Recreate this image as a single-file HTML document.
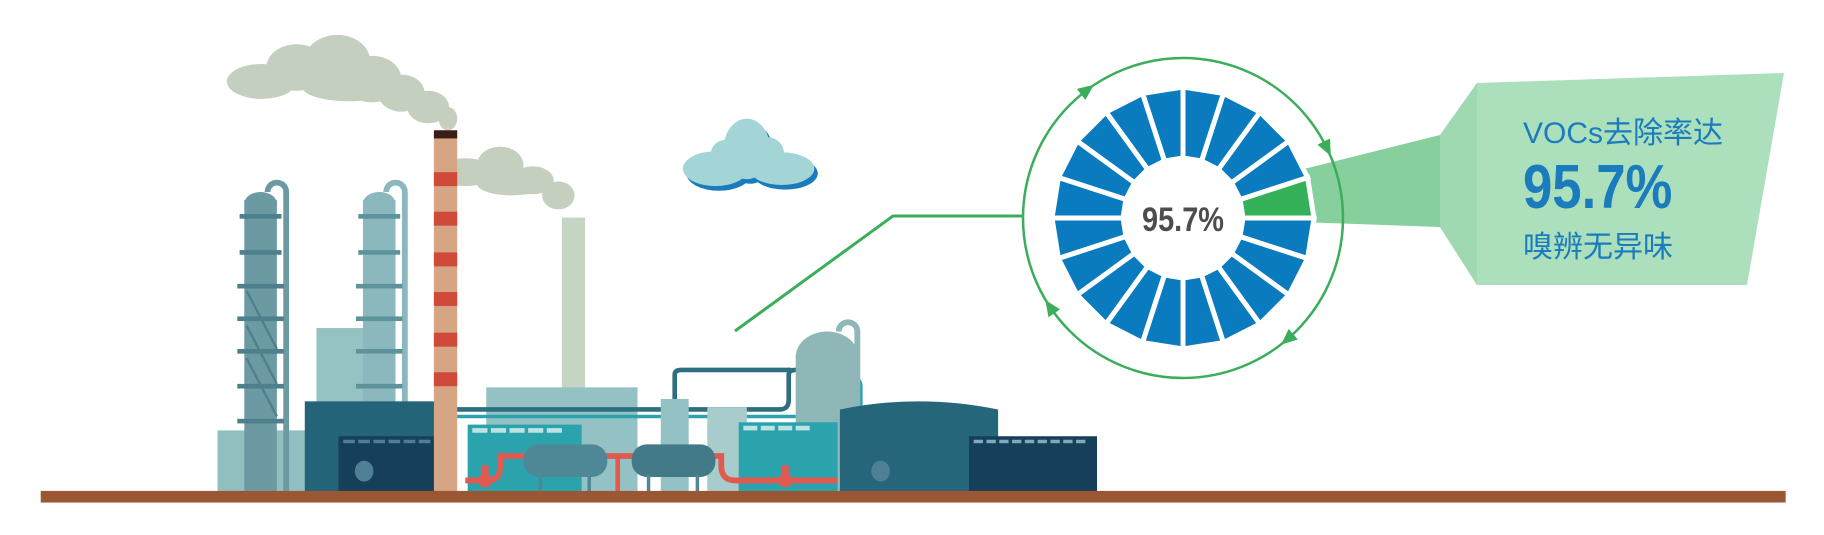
<!DOCTYPE html>
<html><head><meta charset="utf-8"><style>
html,body{margin:0;padding:0;background:#fff;width:1824px;height:535px;overflow:hidden}
svg{display:block}
</style></head><body>
<svg id="s" width="1824" height="535" viewBox="0 0 1824 535" xmlns="http://www.w3.org/2000/svg">
<g transform="scale(1.1633)">
  <!-- smoke -->
  <g fill="#c4cfbf">
    <ellipse cx="225" cy="70" rx="30" ry="15"/>
    <ellipse cx="255" cy="58" rx="26" ry="20"/>
    <ellipse cx="290" cy="52" rx="28" ry="22"/>
    <ellipse cx="320" cy="68" rx="25" ry="20"/>
    <ellipse cx="345" cy="80" rx="20" ry="16"/>
    <ellipse cx="368" cy="92" rx="18" ry="14"/>
    <ellipse cx="385" cy="102" rx="8" ry="10"/>
    <ellipse cx="300" cy="75" rx="40" ry="12"/>
    <ellipse cx="400" cy="148" rx="25" ry="12"/>
    <ellipse cx="430" cy="142" rx="20" ry="16"/>
    <ellipse cx="458" cy="155" rx="18" ry="12"/>
    <ellipse cx="480" cy="168" rx="14" ry="12"/>
    <ellipse cx="440" cy="158" rx="30" ry="10"/>
  </g>
  <!-- blue cloud -->
  <g fill="#1a7bbd" transform="translate(3,4)">
    <ellipse cx="642" cy="128" rx="20" ry="26"/><ellipse cx="615" cy="145" rx="28" ry="15"/><ellipse cx="672" cy="145" rx="28" ry="14"/>
  </g>
  <g fill="#a3d5d6">
    <ellipse cx="642" cy="128" rx="20" ry="26"/><ellipse cx="615" cy="145" rx="28" ry="15"/><ellipse cx="672" cy="145" rx="28" ry="14"/><ellipse cx="625" cy="132" rx="14" ry="12"/><ellipse cx="660" cy="132" rx="14" ry="14"/>
  </g>
  <!-- background blocks -->
  <rect x="187" y="370" width="80" height="53" fill="#8fbfbf"/>
  <rect x="272" y="282" width="42" height="141" fill="#95c2c2"/>
  <rect x="483" y="187" width="20" height="150" fill="#c5d6c5"/>
  <rect x="418" y="333" width="130" height="90" fill="#94c1c3"/>
  <!-- towers -->
  <g>
    <path d="M246 423 V165 a8 8 0 0 0 -16 0" fill="none" stroke="#6b9aa3" stroke-width="5"/>
    <rect x="210" y="172" width="28" height="251" fill="#6b9aa3"/>
    <ellipse cx="224" cy="175" rx="14" ry="10" fill="#6b9aa3"/>
    <g fill="#4d7f8c"><rect x="206" y="184" width="36" height="4"/><rect x="206" y="215" width="36" height="4"/><rect x="204" y="244" width="40" height="4"/><rect x="204" y="272" width="40" height="4"/><rect x="204" y="300" width="40" height="4"/><rect x="204" y="330" width="40" height="4"/><rect x="204" y="360" width="40" height="4"/></g>
    <path d="M212 250 L238 300 M212 280 L238 330 M212 308 L238 358" stroke="#4d7f8c" stroke-width="2"/>
    <path d="M348 423 V165 a8 8 0 0 0 -16 0" fill="none" stroke="#8ab8bc" stroke-width="5"/>
    <rect x="312" y="172" width="28" height="251" fill="#8ab8bc"/>
    <ellipse cx="326" cy="175" rx="14" ry="10" fill="#8ab8bc"/>
    <g fill="#5f939c"><rect x="308" y="184" width="36" height="4"/><rect x="308" y="215" width="36" height="4"/><rect x="306" y="244" width="40" height="4"/><rect x="306" y="272" width="40" height="4"/><rect x="306" y="300" width="40" height="4"/><rect x="306" y="330" width="40" height="4"/><rect x="306" y="360" width="40" height="4"/></g>
  </g>
  <rect x="262" y="345" width="112" height="78" fill="#236478"/>
  <rect x="291" y="375" width="97" height="48" fill="#163f5a"/>
  <g fill="#4f7f95"><rect x="295" y="378" width="10" height="3"/><rect x="308" y="378" width="10" height="3"/><rect x="321" y="378" width="10" height="3"/><rect x="334" y="378" width="10" height="3"/><rect x="347" y="378" width="10" height="3"/><rect x="360" y="378" width="10" height="3"/></g>
  <ellipse cx="313" cy="405" rx="8" ry="9" fill="#4f7f95"/>
  <!-- chimney -->
  <rect x="373" y="112" width="20" height="311" fill="#d6a584"/>
  <rect x="373" y="112" width="20" height="7" fill="#3a1e16"/>
  <g fill="#d04a3a"><rect x="373" y="148" width="20" height="12"/><rect x="373" y="182" width="20" height="12"/><rect x="373" y="217" width="20" height="12"/><rect x="373" y="251" width="20" height="12"/><rect x="373" y="286" width="20" height="12"/><rect x="373" y="320" width="20" height="12"/></g>
  <!-- pipes -->
  <path d="M393 352 H670 Q678 352 678 344 V322 Q678 318 684 318 H705 Q712 318 712 326 V423" fill="none" stroke="#2d6f80" stroke-width="4"/>
  <path d="M393 358 H700 Q705 358 705 352 V332 Q705 326 712 326 H735 Q740 326 740 332 V423" fill="none" stroke="#2aa3ad" stroke-width="3"/>
  <path d="M580 352 V322 Q580 318 586 318 H680" fill="none" stroke="#2d6f80" stroke-width="4"/>
  <rect x="568" y="343" width="24" height="80" fill="#94c1c3"/>
  <rect x="608" y="350" width="34" height="73" fill="#a8cccc"/>
  <!-- tall tank -->
  <path d="M737 423 V285 a8 8 0 0 0 -16 0" fill="none" stroke="#8fb7b8" stroke-width="5"/>
  <rect x="684" y="305" width="54" height="118" fill="#8fb7b8"/>
  <ellipse cx="711" cy="307" rx="27" ry="22" fill="#8fb7b8"/>
  <!-- teal tanks -->
  <rect x="402" y="365" width="98" height="58" fill="#2aa3ad"/>
  <g fill="#bfe3e3"><rect x="406" y="368" width="13" height="4"/><rect x="422" y="368" width="13" height="4"/><rect x="438" y="368" width="13" height="4"/><rect x="454" y="368" width="13" height="4"/><rect x="470" y="368" width="13" height="4"/></g>
  <rect x="635" y="363" width="85" height="60" fill="#2aa3ad"/>
  <g fill="#bfe3e3"><rect x="639" y="366" width="12" height="4"/><rect x="654" y="366" width="12" height="4"/><rect x="669" y="366" width="12" height="4"/><rect x="684" y="366" width="12" height="4"/></g>
  <!-- red pipes -->
  <path d="M400 413 H420 Q430 413 430 400 V392 H620 V400 Q620 413 632 413 H720" fill="none" stroke="#e05a50" stroke-width="5"/>
  <rect x="529" y="392" width="4" height="31" fill="#e05a50"/>
  <circle cx="417" cy="413" r="6" fill="#e05a50"/><circle cx="675" cy="413" r="6" fill="#e05a50"/>
  <rect x="414" y="400" width="6" height="8" fill="#e05a50"/><rect x="672" y="400" width="6" height="8" fill="#e05a50"/>
  <!-- horizontal tanks -->
  <rect x="450" y="382" width="72" height="28" rx="13" fill="#4e8796"/>
  <rect x="543" y="382" width="72" height="28" rx="13" fill="#437a88"/>
  <g fill="#4e8796"><rect x="463" y="408" width="3" height="15"/><rect x="505" y="408" width="3" height="15"/><rect x="556" y="408" width="3" height="15"/><rect x="598" y="408" width="3" height="15"/></g>
  <!-- right buildings -->
  <path d="M722 423 V352 Q790 338 858 352 V423 Z" fill="#25667a"/>
  <rect x="833" y="375" width="110" height="48" fill="#163f5a"/>
  <g fill="#7fa9bd"><rect x="837" y="378" width="8" height="3"/><rect x="848" y="378" width="8" height="3"/><rect x="859" y="378" width="8" height="3"/><rect x="870" y="378" width="8" height="3"/><rect x="881" y="378" width="8" height="3"/><rect x="892" y="378" width="8" height="3"/><rect x="903" y="378" width="8" height="3"/><rect x="914" y="378" width="8" height="3"/><rect x="925" y="378" width="8" height="3"/></g>
  <ellipse cx="757" cy="405" rx="8" ry="9" fill="#4f7f95"/>
  <!-- ground -->
  <rect x="35" y="422" width="1500" height="10" fill="#9b5733"/>
</g>
<!-- leader line -->
<polyline points="735,331 893,216 1023,216" fill="none" stroke="#3aae5a" stroke-width="3"/>
<!-- cone & panel -->
<polygon points="1300,170 1440,135 1440,227 1300,222" fill="#88cf9e"/>
<polygon points="1477,83 1784,73 1747,285 1477,285 1440,227 1440,135" fill="#acdfbc"/>
<polygon points="1440,135 1477,83 1477,285 1440,227" fill="#9fd9b2"/>
<g id="wheel"></g>
<circle cx="1183" cy="218" r="160" fill="none" stroke="#3aae5a" stroke-width="2.5"/>
<g fill="#3aae5a" id="arrows"></g>
<text x="1183" y="231" text-anchor="middle" font-family="Liberation Sans Narrow, Liberation Sans, sans-serif" font-weight="bold" font-size="34" fill="#4d4d4d" transform="translate(1183,0) scale(0.85,1) translate(-1183,0)">95.7%</text>
<text x="1523" y="143" font-family="Liberation Sans, Noto Sans CJK SC, sans-serif" font-size="30" fill="#1a7bbd">VOCs去除率达</text>
<text x="1523" y="208" font-family="Liberation Sans Narrow, Liberation Sans, sans-serif" font-weight="bold" font-size="62" fill="#1a7bbd" transform="translate(1523,0) scale(0.85,1) translate(-1523,0)">95.7%</text>
<text x="1523" y="257" font-family="Liberation Sans, Noto Sans CJK SC, sans-serif" font-size="30" fill="#1a7bbd">嗅辨无异味</text>
</svg>
<script>
(function(){
var ns="http://www.w3.org/2000/svg",cx=1183,cy=218,R=131,r=60,w=document.getElementById('wheel');
for(var i=0;i<20;i++){
 var a1=-i*18*Math.PI/180,a2=-(i+1)*18*Math.PI/180;
 var p=[[cx+R*Math.cos(a1),cy+R*Math.sin(a1)],[cx+R*Math.cos(a2),cy+R*Math.sin(a2)],[cx+r*Math.cos(a2),cy+r*Math.sin(a2)],[cx+r*Math.cos(a1),cy+r*Math.sin(a1)]];
 var e=document.createElementNS(ns,'polygon');
 e.setAttribute('points',p.map(function(q){return q.join(',')}).join(' '));
 e.setAttribute('fill',i==0?'#35b15a':'#0a7bbf');
 e.setAttribute('stroke','#fff');e.setAttribute('stroke-width','5');
 w.appendChild(e);
}
var c=document.createElementNS(ns,'circle');c.setAttribute('cx',cx);c.setAttribute('cy',cy);c.setAttribute('r',r);c.setAttribute('fill','#fff');w.appendChild(c);
var ar=document.getElementById('arrows'),angs=[-127,-26,49,146];
angs.forEach(function(d){
 var a=d*Math.PI/180,x=cx+160*Math.cos(a),y=cy+160*Math.sin(a),deg=d+90;
 var t=document.createElementNS(ns,'polygon');
 t.setAttribute('points','9,0 -7,-7 -7,7');
 t.setAttribute('transform','translate('+x+','+y+') rotate('+deg+')');
 ar.appendChild(t);
});
})();
</script>
</body></html>
